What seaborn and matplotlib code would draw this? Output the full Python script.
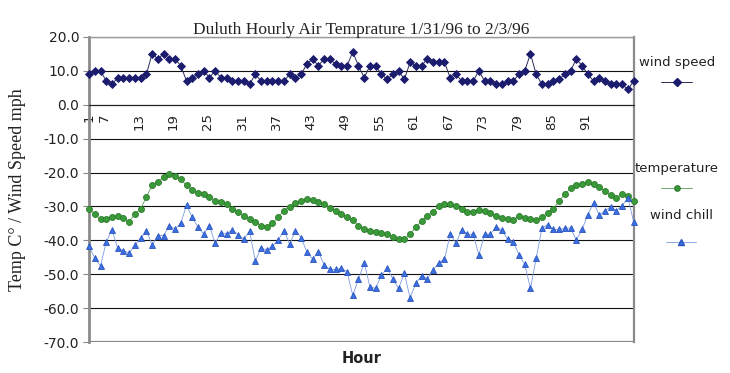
import matplotlib
matplotlib.use("Agg")
import matplotlib.pyplot as plt
import matplotlib.transforms as mtransforms
from matplotlib.lines import Line2D
import pandas as pd
import seaborn as sns

hours = list(range(1, 97))

wind_speed = [9, 10, 10, 7, 6, 8, 8, 8, 8, 8,
              9, 15, 13.5, 15, 13.5, 13.5, 11.5, 7, 8, 9,
              10, 8, 10, 8, 8, 7, 7, 7, 6, 9,
              7, 7, 7, 7, 7, 9, 8, 9, 12, 13.5,
              11.5, 13.5, 13.5, 12, 11.5, 11.5, 15.5, 11.5, 8, 11.5,
              11.5, 9, 7.5, 9, 10, 7.5, 12.5, 11.5, 11.5, 13.5,
              12.5, 12.5, 12.5, 8, 9, 7, 7, 7, 10, 7,
              7, 6, 6, 7, 7, 9, 10, 15, 9, 6,
              6, 7, 7.5, 9, 10, 13.5, 11.5, 9, 7, 8,
              7, 6, 6, 6, 4.5, 7]

temperature = [-30.8, -32.2, -33.8, -33.6, -33, -32.8, -33.5, -34.5, -32.2, -30.7,
               -27.2, -23.8, -22.8, -21.4, -20.3, -21, -22, -23.8, -25.1, -26,
               -26.2, -27.2, -28.3, -28.8, -29.3, -30.8, -31.7, -32.8, -33.7, -34.5,
               -35.7, -36.1, -34.9, -33.2, -31.2, -30.1, -29, -28.5, -27.8, -28.2,
               -28.6, -29.3, -30.4, -31.2, -32.2, -33, -34, -35.7, -36.6, -37.1,
               -37.6, -37.9, -38.2, -38.9, -39.6, -39.7, -38.2, -36.1, -34.3, -32.8,
               -31.5, -30, -29.3, -29.3, -30, -30.7, -31.5, -31.5, -31, -31.3,
               -31.8, -32.8, -33.3, -33.7, -34, -32.8, -33.3, -33.8, -34, -33.1,
               -32, -30.8, -28.3, -26.4, -24.6, -23.8, -23.3, -22.9, -23.5, -24.4,
               -25.4, -26.6, -27.5, -26.4, -27, -28.3]

wind_chill = [-41.7, -45.3, -47.6, -40.4, -36.9, -42.3, -43, -43.8, -41.4, -39.4,
              -37.1, -41.4, -38.6, -38.6, -35.7, -36.7, -34.9, -29.7, -33.2, -36.1,
              -38.1, -35.7, -40.9, -37.7, -38.1, -36.9, -38.4, -39.6, -37.3, -46.1,
              -42.3, -42.8, -41.7, -39.9, -37.1, -41.2, -37.1, -39.2, -43.5, -45.5,
              -43.3, -47.3, -48.6, -48.6, -48.3, -49.2, -56.2, -51.5, -46.6, -53.7,
              -54.2, -50.2, -48.3, -51.4, -54.2, -49.7, -57, -52.7, -50.4, -51.4,
              -48.8, -46.6, -45.6, -38.2, -40.9, -36.9, -38.2, -38.2, -44.3, -38.2,
              -38.2, -36.1, -36.9, -39.7, -40.4, -44.3, -47.1, -54.2, -45.3, -36.4,
              -35.4, -36.8, -36.8, -36.4, -36.4, -39.9, -36.8, -32.5, -29, -32.5,
              -31.2, -30.2, -31.2, -29.8, -27.5, -34.5]

series_names = ["wind speed", "temperature", "wind chill"]
tick_hours = list(range(1, 97, 6))
y_ticks = list(range(-70, 21, 10))

df = pd.DataFrame({"Hour": hours, "wind speed": wind_speed,
                   "temperature": temperature, "wind chill": wind_chill})

sns.set_style("white")
plt.rcParams["font.family"] = ["DejaVu Sans"]
plt.rcParams["axes.unicode_minus"] = False

styles = {
    "wind speed": dict(line="#2b2b55", face="#1c1c6e", edge="#1c1c6e", marker="D", ms=4.2, lw=0.7),
    "temperature": dict(line="#5a9a5a", face="#3a9a3a", edge="#2a7a2a", marker="o", ms=4.3, lw=0.6),
    "wind chill": dict(line="#7d9be0", face="#3c6fe0", edge="#2a55c0", marker="^", ms=5.0, lw=0.6),
}
# legend blocks: centre (figure fraction) and gap between title and sample
legend_pos = {"wind speed": (0.927, 0.805), "temperature": (0.927, 0.52),
              "wind chill": (0.933, 0.385)}
legend_gap = {"wind speed": 0.5, "temperature": 0.5, "wind chill": 1.0}

fig = plt.figure(figsize=(7.3, 3.73), dpi=100)
ax = fig.add_axes([0.122, 0.083, 0.746, 0.818])

for name in series_names:
    st = styles[name]
    sns.lineplot(data=df, x="Hour", y=name, ax=ax, color=st["line"], linewidth=st["lw"],
                 marker=st["marker"], markersize=st["ms"], markerfacecolor=st["face"],
                 markeredgecolor=st["edge"], markeredgewidth=0.6, errorbar=None,
                 legend=False, clip_on=False, zorder=3)

# move the x axis to zero first, it resets the ticks
ax.spines["bottom"].set_position(("data", 0))
ax.spines["bottom"].set_color("#222222")
ax.spines["bottom"].set_linewidth(0.8)
ax.spines["left"].set_color("#8a8a8a")
ax.spines["left"].set_linewidth(2)
ax.spines["right"].set_color("#8a8a8a")
ax.spines["right"].set_linewidth(1.6)
ax.spines["top"].set_color("#9a9a9a")
ax.spines["top"].set_linewidth(1)

ax.set_xlim(1, 96)
ax.set_ylim(-70, 20)
ax.set_yticks(y_ticks)
ax.set_yticklabels([f"{v:.1f}" for v in y_ticks], fontsize=10, color="#222222")
ax.set_xticks(hours, minor=True)
ax.set_xticks(tick_hours)
ax.set_xticklabels([str(h) for h in tick_hours], rotation=90, fontsize=9.5, color="#222222")
ax.tick_params(axis="x", which="both", direction="inout", length=8, width=0.8,
               color="#333333", pad=2)
ax.tick_params(axis="y", direction="out", length=4, width=0.8, color="#888888", pad=3, left=True)

# excel put the labels a bit left of their category, except the first one
shift = mtransforms.ScaledTranslation(-19 / 100, 0, fig.dpi_scale_trans)
for lbl in ax.get_xticklabels()[1:]:
    lbl.set_transform(lbl.get_transform() + shift)

ax.grid(axis="y", color="#111111", linewidth=0.8)
ax.grid(axis="x", visible=False)
ax.axhline(-70, color="#8a8a8a", linewidth=1.6, zorder=2.5)

ax.set_title("Duluth Hourly Air Temprature 1/31/96 to 2/3/96", family="Liberation Serif",
             fontsize=12.5, color="#222222", pad=2)
ax.set_ylabel("Temp C° / Wind Speed mph", family="Liberation Serif", fontsize=13, color="#222222")
ax.yaxis.set_label_coords(-0.115, 0.5)
ax.set_xlabel("Hour", fontsize=10.5, fontweight="bold", color="#222222")
ax.xaxis.set_label_coords(0.5, -0.03)

for name in series_names:
    st = styles[name]
    h = Line2D([], [], color=st["line"], linewidth=st["lw"], marker=st["marker"],
               markersize=st["ms"] - 0.5, markerfacecolor=st["face"], markeredgecolor=st["edge"])
    leg = fig.legend(handles=[h], labels=[""], title=name, loc="center",
                     bbox_to_anchor=legend_pos[name], frameon=False, handlelength=2.2,
                     handletextpad=0, borderpad=0, labelspacing=legend_gap[name],
                     title_fontsize=9.5)
    leg.get_title().set_color("#222222")

fig.savefig("out.png", dpi=100, facecolor="white")
